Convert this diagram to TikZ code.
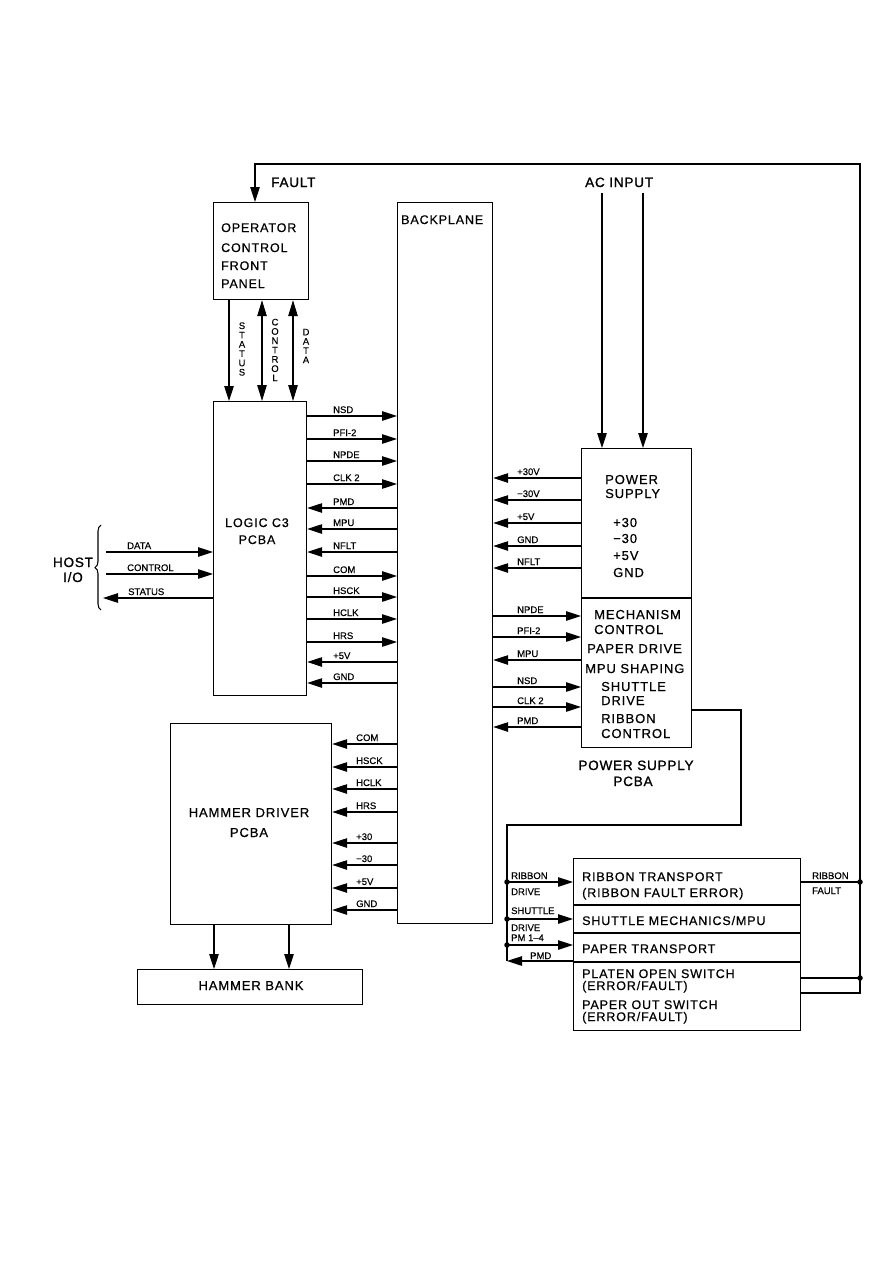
\documentclass[tikz,border=0pt]{standalone}
\usepackage{fontspec}
\setmainfont{Liberation Sans}
\newfontfamily\bx[LetterSpace=7,FakeBold=0.6]{Liberation Sans}
\newfontfamily\hx[LetterSpace=6,FakeBold=1.2]{Liberation Sans}
\newfontfamily\sx[FakeBold=0.3]{Liberation Sans}
\usetikzlibrary{arrows.meta,decorations.pathreplacing}
\begin{document}
\begin{tikzpicture}[x=1pt,y=-1pt,
  box/.style={draw,line width=1.2pt,inner sep=0,anchor=north west},
  wire/.style={line width=1.05pt},
  sig/.style={wire,-{Triangle[length=15pt,width=9.5pt]}},
  dsig/.style={wire,{Triangle[length=16pt,width=9.5pt]}-{Triangle[length=16pt,width=9.5pt]}},
  sl/.style={anchor=base west,inner sep=0,font=\sx\fontsize{9.5}{11}\selectfont},
  bt/.style={anchor=base west,inner sep=0,font=\bx\fontsize{12.5}{15}\selectfont},
  btb/.style={anchor=base west,inner sep=0,font=\bx\fontsize{13}{15}\selectfont},
  btc/.style={bt,anchor=base},
  btbc/.style={btb,anchor=base},
  hdr/.style={anchor=base west,inner sep=0,font=\hx\fontsize{13.5}{16}\selectfont},
  hdrc/.style={hdr,anchor=base},
  vt/.style={inner sep=0,align=center,font=\sx\fontsize{9.5}{9.3}\selectfont},
  dot/.style={circle,fill,inner sep=0,minimum size=5.5pt},
]
\fill[white] (0,0) rectangle (893,1263);
\useasboundingbox (0,0) rectangle (893,1263);

% boxes
\node[box,minimum width=95pt,minimum height=97pt] (op) at (213,202) {};
\node[box,minimum width=95pt,minimum height=721pt] (bp) at (397,202) {};
\node[box,minimum width=93pt,minimum height=294pt] (logic) at (213,401) {};
\node[box,minimum width=110pt,minimum height=299pt] (ps) at (581,448) {};
\node[box,minimum width=161pt,minimum height=201pt] (hdrv) at (170,723) {};
\node[box,minimum width=225pt,minimum height=35pt] (hb) at (137,969) {};
\node[box,minimum width=227pt,minimum height=172pt] (rt) at (573,858) {};
\draw[line width=1.2pt] (ps.west|-0,598) -- (ps.east|-0,598);
\foreach \y in {905,933,962} \draw[line width=1.2pt] (rt.west|-0,\y) -- (rt.east|-0,\y);

% box texts
\node[bt] (op1) at (221,232) {OPERATOR};
\node[bt] (op2) at (221,252) {CONTROL};
\node[bt] (op3) at (221,270) {FRONT};
\node[bt] (op4) at (221,288) {PANEL};
\node[bt] (bpt) at (401,224) {BACKPLANE};
\node[btc] (lg1) at (257,527) {LOGIC C3};
\node[btc] (lg2) at (257,544) {PCBA};
\node[btbc] (hd1) at (249,817) {HAMMER DRIVER};
\node[btbc] (hd2) at (249,837) {PCBA};
\node[btbc] (hbt) at (251,990) {HAMMER BANK};
\node[btb] (ps1) at (605,484) {POWER};
\node[btb] (ps2) at (605,498) {SUPPLY};
\node[btb] (ps3) at (613,527) {+30};
\node[btb] (ps4) at (613,543) {−30};
\node[btb] (ps5) at (613,560) {+5V};
\node[btb] (ps6) at (613,577) {GND};
\node[btb] (pm1) at (594,619) {MECHANISM};
\node[btb] (pm2) at (594,634) {CONTROL};
\node[btb] (pm3) at (587,653) {PAPER DRIVE};
\node[btb] (pm4) at (585,673) {MPU SHAPING};
\node[btb] (pm5) at (601,691) {SHUTTLE};
\node[btb] (pm6) at (601,705) {DRIVE};
\node[btb] (pm7) at (601,723) {RIBBON};
\node[btb] (pm8) at (601,738) {CONTROL};
\node[bt] (rt1) at (582,881) {RIBBON TRANSPORT};
\node[bt] (rt2) at (582,897) {(RIBBON FAULT ERROR)};
\node[bt] (rt3) at (582,925) {SHUTTLE MECHANICS/MPU};
\node[bt] (rt4) at (582,953) {PAPER TRANSPORT};
\node[bt] (rt5) at (582,978) {PLATEN OPEN SWITCH};
\node[bt] (rt6) at (582,990) {(ERROR/FAULT)};
\node[bt] (rt7) at (582,1009) {PAPER OUT SWITCH};
\node[bt] (rt8) at (582,1021) {(ERROR/FAULT)};

% headers
\node[hdr] (fault) at (271,187) {FAULT};
\node[hdr] (acin) at (585,187) {AC INPUT};
\node[hdrc] (host1) at (73,567) {HOST};
\node[hdrc] (host2) at (73,582) {I/O};
\node[hdrc] (psp1) at (636,770) {POWER SUPPLY};
\node[hdrc] (psp2) at (633,786) {PCBA};

% operator <-> logic
\draw[sig] (op.south-|229,0) -- (logic.north-|229,0);
\draw[dsig] (op.south-|262,0) -- (logic.north-|262,0);
\draw[dsig] (op.south-|293,0) -- (logic.north-|293,0);
\node[vt] (vst) at (242,349) {S\\T\\A\\T\\U\\S};
\node[vt] (vco) at (275,350) {C\\O\\N\\T\\R\\O\\L};
\node[vt] (vda) at (306,346) {D\\A\\T\\A};

% logic <-> backplane
\foreach \y/\t [count=\i] in {416/NSD,439/PFI-2,461/NPDE,484/CLK 2,576/COM,597/HSCK,619/HCLK,642/HRS} {
  \draw[sig] (logic.east|-0,\y) -- (bp.west|-0,\y);
  \node[sl] (lr\i) at (333,\y-3) {\t};
}
\foreach \y/\t [count=\i] in {508/PMD,529/MPU,552/NFLT,662/+5V,683/GND} {
  \draw[sig] (bp.west|-0,\y) -- (logic.east|-0,\y);
  \node[sl] (ll\i) at (333,\y-3) {\t};
}

% backplane -> hammer driver
\foreach \y/\t [count=\i] in {744/COM,767/HSCK,789/HCLK,812/HRS,843/+30,865/−30,888/+5V,910/GND} {
  \draw[sig] (bp.west|-0,\y) -- (hdrv.east|-0,\y);
  \node[sl] (hl\i) at (356,\y-3) {\t};
}

% power supply <-> backplane
\foreach \y/\t [count=\i] in {478/+30V,500/−30V,523/+5V,546/GND,568/NFLT,660/MPU,727/PMD} {
  \draw[sig] (ps.west|-0,\y) -- (bp.east|-0,\y);
  \node[sl] (pl\i) at (517,\y-3) {\t};
}
\foreach \y/\t [count=\i] in {616/NPDE,637/PFI-2,687/NSD,707/CLK 2} {
  \draw[sig] (bp.east|-0,\y) -- (ps.west|-0,\y);
  \node[sl] (pr\i) at (517,\y-3) {\t};
}

% host I/O
\coordinate (hin1) at (106,552);
\coordinate (hin2) at (106,574);
\coordinate (hout) at (103,598);
\draw[sig] (hin1) -- (logic.west|-hin1);
\draw[sig] (hin2) -- (logic.west|-hin2);
\draw[sig] (logic.west|-hout) -- (hout);
\node[sl] (hd) at (127,549) {DATA};
\node[sl] (hc) at (127,571) {CONTROL};
\node[sl] (hs) at (128,595) {STATUS};
\draw[wire,decorate,decoration={brace,amplitude=6pt}] (101,610) -- (101,525);

% hammer driver -> hammer bank
\draw[sig] (hdrv.south-|214,0) -- (hb.north-|214,0);
\draw[sig] (hdrv.south-|289,0) -- (hb.north-|289,0);

% AC input
\coordinate (ac1) at (602,193);
\coordinate (ac2) at (643,193);
\draw[sig] (ac1) -- (ps.north-|ac1);
\draw[sig] (ac2) -- (ps.north-|ac2);

% drive bus from power supply to mechanics
\node[dot] (d1) at (507,882) {};
\node[dot] (d2) at (507,919) {};
\node[dot] (d3) at (507,945) {};
\coordinate (pmdend) at (507,961);
\draw[wire] (ps.east|-0,710) -- (741,710) -- (741,825) -- (507,825) -- (d1.center) -- (d2.center) -- (d3.center) -- (pmdend);
\draw[sig] (d1.center) -- (rt.west|-d1);
\draw[sig] (d2.center) -- (rt.west|-d2);
\draw[sig] (d3.center) -- (rt.west|-d3);
\draw[sig] (rt.west|-pmdend) -- (pmdend);
\node[sl] (bl1) at (511,879) {RIBBON};
\node[sl] (bl2) at (511,895) {DRIVE};
\node[sl] (bl3) at (511,914) {SHUTTLE};
\node[sl] (bl4) at (511,931) {DRIVE};
\node[sl] (bl5) at (511,941) {PM 1–4};
\node[sl] (bl6) at (530,959) {PMD};

% fault loop
\node[dot] (f1) at (860,882) {};
\node[dot] (f2) at (860,978) {};
\coordinate (f3) at (860,993);
\coordinate (ftop) at (860,164);
\coordinate (fleft) at (255,164);
\draw[wire] (rt.east|-f1) -- (f1.center);
\draw[wire] (rt.east|-f2) -- (f2.center);
\draw[sig] (rt.east|-f3) -- (f3) -- (ftop) -- (fleft) -- (op.north-|fleft);
\node[sl] (rf1) at (812,879) {RIBBON};
\node[sl] (rf2) at (812,894) {FAULT};
\end{tikzpicture}
\end{document}
